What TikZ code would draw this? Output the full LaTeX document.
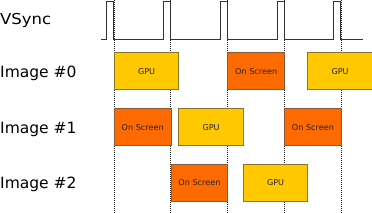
\documentclass[tikz,border=0pt]{standalone}
\usepackage{graphicx}
\usepackage{fontspec}
\setmainfont{DejaVu Sans}
\definecolor{gpufill}{HTML}{FFC800}
\definecolor{gpuline}{HTML}{8A7428}
\definecolor{osfill}{HTML}{FF6A00}
\definecolor{osline}{HTML}{8A5A3A}
\definecolor{txt}{HTML}{222222}
\tikzset{
  rowlabel/.style={anchor=base west, inner sep=0pt, font=\fontsize{15.5}{16}\selectfont, text=black},
  box/.style={anchor=north west, inner sep=0pt, minimum height=37pt, line width=0.8pt,
              font=\fontsize{8.1}{9}\selectfont, text=txt},
  gpubox/.style={box, fill=gpufill, draw=gpuline, minimum width=64.5pt},
  osbox/.style={box, fill=osfill, draw=osline, minimum width=56.75pt},
  vline/.style={line width=0.8pt, black!85, dash pattern=on 1pt off 1pt},
  signal/.style={line width=0.9pt, black!80}
}
\begin{document}
\begin{tikzpicture}[x=1pt,y=-1pt]
\useasboundingbox (0,0) rectangle (372,213);
% vertical dotted lines at vsync falling edges
\foreach \k in {0,...,4}{
  \coordinate (t\k) at ({113.9+\k*56.75},0);
  \coordinate (b\k) at ({113.9+\k*56.75},213);
  \draw[vline] (t\k) -- (b\k);
}
% vsync signal
\draw[signal] (101,39.5)
  \foreach \k in {0,...,4}{ -- ({106.9+\k*56.75},39.5) -- ({106.9+\k*56.75},1.5) -- ({113.9+\k*56.75},1.5) -- ({113.9+\k*56.75},39.5) }
  -- (363,39.5);
% labels
\node[rowlabel, font=\fontsize{15}{16}\selectfont] (lv) at (0,24.5) {\scalebox{1.1}[1]{VSync}};
\node[rowlabel] (l0) at (0,77.7) {Image \#0};
\node[rowlabel] (l1) at (0,133.3) {Image \#1};
\node[rowlabel] (l2) at (0,189) {Image \#2};
% row 0
\node[gpubox] (g00) at (113.9,52.3) {GPU};
\node[osbox]  (o00) at (227.4,52.3) {On Screen};
\node[gpubox] (g01) at (307.4,52.3) {GPU};
% row 1
\node[osbox]  (o10) at (113.9,108.3) {On Screen};
\node[gpubox] (g10) at (178.4,108.3) {GPU};
\node[osbox]  (o11) at (284.15,108.3) {On Screen};
% row 2
\node[osbox]  (o20) at (170.65,163.7) {On Screen};
\node[gpubox] (g20) at (242.9,163.7) {GPU};
\end{tikzpicture}
\end{document}
